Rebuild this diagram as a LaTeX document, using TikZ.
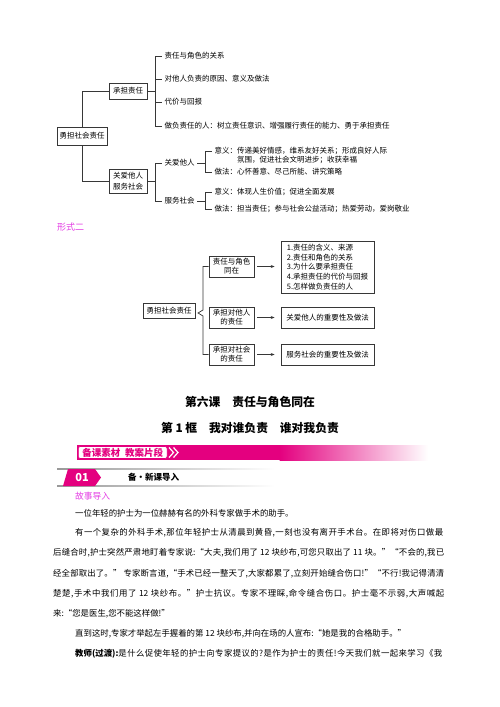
\documentclass[tikz,border=0pt]{standalone}
\usepackage{fontspec}
\setmainfont{Noto Sans CJK SC}
\usetikzlibrary{arrows.meta}
\definecolor{mg}{RGB}{228,60,228}
\definecolor{pk}{RGB}{228,0,127}
\definecolor{lc}{RGB}{55,55,55}
\newcommand\dgf{\fontsize{7.5}{9}\selectfont}
\newcommand\bdf{\fontsize{8.4}{10}\selectfont}
\def\jsfirst#1{#1\jsnext}
\def\jsnext#1{\ifx#1\relax\else\hfil#1\expandafter\jsnext\fi}
\newcommand\jline[2]{\makebox[#1][s]{\jsfirst#2\relax}}
\begin{document}
\begin{tikzpicture}[x=1pt,y=-1pt,
  ln/.style={draw=lc, line width=0.7pt},
  bx/.style={draw=lc, line width=0.7pt, inner sep=1pt, font=\dgf, align=center},
  tx/.style={anchor=west, font=\dgf, inner xsep=2.5pt, inner ysep=1pt},
  arr/.style={ln, -{Stealth[length=4pt,width=3pt]}, shorten <=3pt, shorten >=6pt},
  body/.style={anchor=west, font=\bdf, inner sep=0pt}]
\fill[white] (0,0) rectangle (500,707);
\useasboundingbox (0,0) rectangle (500,707);

% ---------- diagram 1 ----------
\node[bx, minimum width=50pt, minimum height=18pt] (r1) at (82,136) {勇担社会责任};
\node[bx, minimum width=38pt, minimum height=16pt] (a) at (128,91) {承担责任};
\node[bx, minimum width=38pt, minimum height=24pt, font=\fontsize{7.5}{11}\selectfont] (b) at (128,181) {关爱他人\\服务社会};
\draw[ln] (r1.north) |- (a.west);
\draw[ln] (r1.south) |- (b.west);

\coordinate (ja) at (155,91);
\node[tx] (a1) at (162,56) {责任与角色的关系};
\node[tx] (a2) at (162,79) {对他人负责的原因、意义及做法};
\node[tx] (a3) at (162,102) {代价与回报};
\node[tx] (a4) at (162,126) {做负责任的人：树立责任意识、增强履行责任的能力、勇于承担责任};
\draw[ln] (a.east) -- (ja);
\foreach \n in {a1,a2,a3,a4} \draw[ln] (ja) |- (\n.west);

\coordinate (jb) at (155,181);
\node[tx] (b1) at (162,163) {关爱他人};
\node[tx] (b2) at (162,201) {服务社会};
\draw[ln] (b.east) -- (jb);
\foreach \n in {b1,b2} \draw[ln] (jb) |- (\n.west);

\coordinate (jc) at (205,163);
\node[tx] (c1) at (212,151) {意义：传递美好情感，维系友好关系；形成良好人际};
\node[tx] (c1b) at (234.5,160) {氛围，促进社会文明进步；收获幸福};
\node[tx] (c2) at (212,172) {做法：心怀善意、尽己所能、讲究策略};
\draw[ln] (b1.east) -- (jc);
\foreach \n in {c1,c2} \draw[ln] (jc) |- (\n.west);

\coordinate (jd) at (205,201);
\node[tx] (c3) at (212,192) {意义：体现人生价值；促进全面发展};
\node[tx] (c4) at (212,209) {做法：担当责任；参与社会公益活动；热爱劳动，爱岗敬业};
\draw[ln] (b2.east) -- (jd);
\foreach \n in {c3,c4} \draw[ln] (jd) |- (\n.west);

\node[anchor=west, text=mg, font=\fontsize{9}{10}\selectfont, inner sep=0pt] (f2) at (57,227) {形式二};

% ---------- diagram 2 ----------
\node[bx, minimum width=52pt, minimum height=15pt] (r2) at (169,311) {勇担社会责任};
\node[bx, minimum width=45pt, minimum height=21pt] (d1) at (231.5,266.5) {责任与角色\\同在};
\node[bx, minimum width=45pt, minimum height=21pt] (d2) at (231.5,317.5) {承担对他人\\的责任};
\node[bx, minimum width=45pt, minimum height=21pt] (d3) at (231.5,354.5) {承担对社会\\的责任};
\node[bx, minimum width=93pt, minimum height=52pt, align=left, font=\fontsize{7.5}{9.7}\selectfont] (e1) at (327.5,267) {1.责任的含义、来源\\2.责任和角色的关系\\3.为什么要承担责任\\4.承担责任的代价与回报\\5.怎样做负责任的人};
\node[bx, minimum width=93pt, minimum height=21pt] (e2) at (327.5,317.5) {关爱他人的重要性及做法};
\node[bx, minimum width=93pt, minimum height=21pt] (e3) at (327.5,354.5) {服务社会的重要性及做法};
\draw[arr] (d1.east) -- (d1.east -| e1.west);
\draw[arr] (d2.east) -- (d2.east -| e2.west);
\draw[arr] (d3.east) -- (d3.east -| e3.west);
\coordinate (bt) at (203,310);
\coordinate (bb) at (203,316);
\coordinate (tp) at (198,313);
\draw[ln] (d1.west) -| (bt) -- (tp) -- (bb) |- (d3.west);

% ---------- titles ----------
\node[font=\fontsize{11.8}{14}\selectfont\bfseries] (t1) at (250,402) {第六课\hspace{1em}责任与角色同在};
\node[font=\fontsize{11.8}{14}\selectfont\bfseries] (t2) at (250,428) {第 1 框\hspace{1em}我对谁负责\hspace{1em}谁对我负责};

% ---------- banner ----------
\fill[pk] (77,445) rectangle (280,460);
\shade[left color=pk, right color=white] (279.5,445) rectangle (428,460);
\node[draw=pk, fill=white, rounded corners=2pt, line width=0.6pt, text=pk,
  font=\fontsize{9.5}{10}\selectfont\bfseries, anchor=west, inner xsep=4pt,
  inner ysep=0pt, minimum height=12pt] (lab) at (78,452.5) {备课素材\hspace{0.5em}教案片段};
\draw[white, line width=1.2pt] (169,447.5) -- (173.5,452.5) -- (169,457.5);
\draw[white, line width=1.2pt] (173.5,447.5) -- (178,452.5) -- (173.5,457.5);

% ---------- section 01 ----------
\shade[left color=black!40, right color=white] (57,468.3) rectangle (275,469.3);
\shade[left color=black!40, right color=white] (57,485.7) rectangle (275,486.7);
\fill[pk] (68,469) -- (95,469) -- (101,477.5) -- (95,486) -- (63,486) -- cycle;
\node[text=white, font=\fontsize{11}{12}\selectfont\bfseries] (n01) at (82,477.5) {01};
\node[anchor=west, font=\fontsize{8.5}{10}\selectfont\bfseries, inner sep=0pt] (h1) at (128,477.5) {备·新课导入};
\node[anchor=west, text=mg, font=\fontsize{8.75}{10}\selectfont, inner sep=0pt] (h2) at (75,496) {故事导入};

% ---------- body ----------
\node[body] (p1) at (75,513) {一位年轻的护士为一位赫赫有名的外科专家做手术的助手。};
\node[body] (p2) at (75,533) {\jline{368pt}{有一个复杂的外科手术,那位年轻护士从清晨到黄昏,一刻也没有离开手术台。在即将对伤口做最}};
\node[body] (p3) at (53,553) {\jline{391pt}{后缝合时,护士突然严肃地盯着专家说:“大夫,我们用了{\ 12\ }块纱布,可您只取出了{\ 11\ }块。”“不会的,我已}};
\node[body] (p4) at (53,574) {\jline{391pt}{经全部取出了。”{\ }专家断言道,“手术已经一整天了,大家都累了,立刻开始缝合伤口!”“不行!我记得清清}};
\node[body] (p5) at (53,594) {\jline{391pt}{楚楚,手术中我们用了{\ 12\ }块纱布。”护士抗议。专家不理睬,命令缝合伤口。护士毫不示弱,大声喊起}};
\node[body] (p6) at (53,614) {来:“您是医生,您不能这样做!”};
\node[body] (p7) at (75,634) {直到这时,专家才举起左手握着的第 12 块纱布,并向在场的人宣布:“她是我的合格助手。”};
\node[body] (p8) at (75,654) {\makebox[367pt][s]{\textbf{教师(过渡):}\jsfirst 是什么促使年轻的护士向专家提议的?是作为护士的责任!今天我们就一起来学习《我\relax}};
\end{tikzpicture}
\end{document}
